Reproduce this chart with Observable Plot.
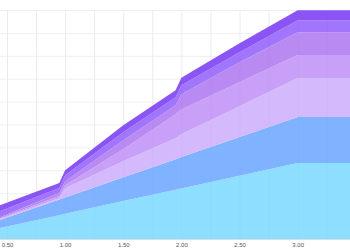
<!DOCTYPE html>
<html>
<head>
<meta charset="utf-8">
<script src="https://cdn.jsdelivr.net/npm/d3@7"></script>
<script src="https://cdn.jsdelivr.net/npm/@observablehq/plot@0.6"></script>
<style>
  html, body { margin: 0; padding: 0; background: #fff; }
  #chart svg { display: block; }
</style>
</head>
<body>
<div id="chart"></div>
<script>
const xs = [0.44, 0.95, 1.0, 1.5, 1.95, 2.0, 2.5, 3.0, 3.45];
const seriesNames = ["Series 1", "Series 2", "Series 3", "Series 4", "Series 5", "Series 6", "Series 7"];
const s1 = [4.8, 10.4, 11.0, 16.6, 21.5, 22.1, 27.6, 33.2, 33.2];
const s2 = [3.5, 6.8, 7.1, 10.4, 13.3, 13.7, 16.9, 20.1, 20.1];
const s3 = [0.4, 0.7, 4.1, 7.0, 9.2, 9.9, 13.5, 17.0, 17.0];
const s4 = [0.4, 0.9, 1.3, 5.2, 10.5, 10.9, 10.5, 10.0, 10.0];
const s5 = [0.4, 1.3, 1.7, 3.9, 3.9, 6.6, 8.7, 10.0, 10.0];
const s6 = [2.6, 2.2, 2.6, 3.5, 3.5, 3.9, 4.4, 5.2, 5.2];
const s7 = [2.6, 2.2, 2.2, 3.1, 3.1, 3.3, 3.9, 4.4, 4.4];
const seriesColors = ["#8edfff", "#80b3ff", "#d4bafc", "#c9a0f7", "#b98bf2", "#a175fc", "#8b55f5"];
const xTicks = [0.5, 1.0, 1.5, 2.0, 2.5, 3.0];
const xGrid = [0.5, 0.75, 1.0, 1.25, 1.5, 1.75, 2.0, 2.25, 2.5, 2.75, 3.0, 3.25];
const yGrid = [0, 10, 20, 30, 40, 50, 60, 70, 80, 90, 100];

const allSeries = [s1, s2, s3, s4, s5, s6, s7];
const data = [];
allSeries.forEach((vals, i) => {
  vals.forEach((v, j) => data.push({x: xs[j], y: v, series: seriesNames[i]}));
});

const chart = Plot.plot({
  width: 350,
  height: 250,
  marginTop: 10,
  marginBottom: 11,
  marginLeft: 0,
  marginRight: 0,
  x: {domain: [0.44, 3.45], label: null},
  y: {domain: [0, 100], label: null, axis: null},
  color: {domain: seriesNames, range: seriesColors},
  style: {fontFamily: "Helvetica, Arial, 'Liberation Sans', sans-serif", background: "#fff"},
  marks: [
    Plot.ruleX(xGrid, {stroke: "#efefef", strokeWidth: 1}),
    Plot.ruleY(yGrid, {stroke: "#efefef", strokeWidth: 1}),
    Plot.areaY(data, {x: "x", y: "y", fill: "series", z: "series", order: seriesNames, curve: "linear", clip: true}),
    Plot.ruleX(xGrid, {stroke: "#000", strokeOpacity: 0.02, strokeWidth: 1}),
    Plot.ruleY([0], {stroke: "#d8dde3", strokeWidth: 1}),
    Plot.axisX({ticks: xTicks, tickFormat: d3.format(".2f"), tickSize: 0, tickPadding: 3, fontSize: 6, fill: "#555", label: null})
  ]
});
document.getElementById("chart").appendChild(chart);
</script>
</body>
</html>
